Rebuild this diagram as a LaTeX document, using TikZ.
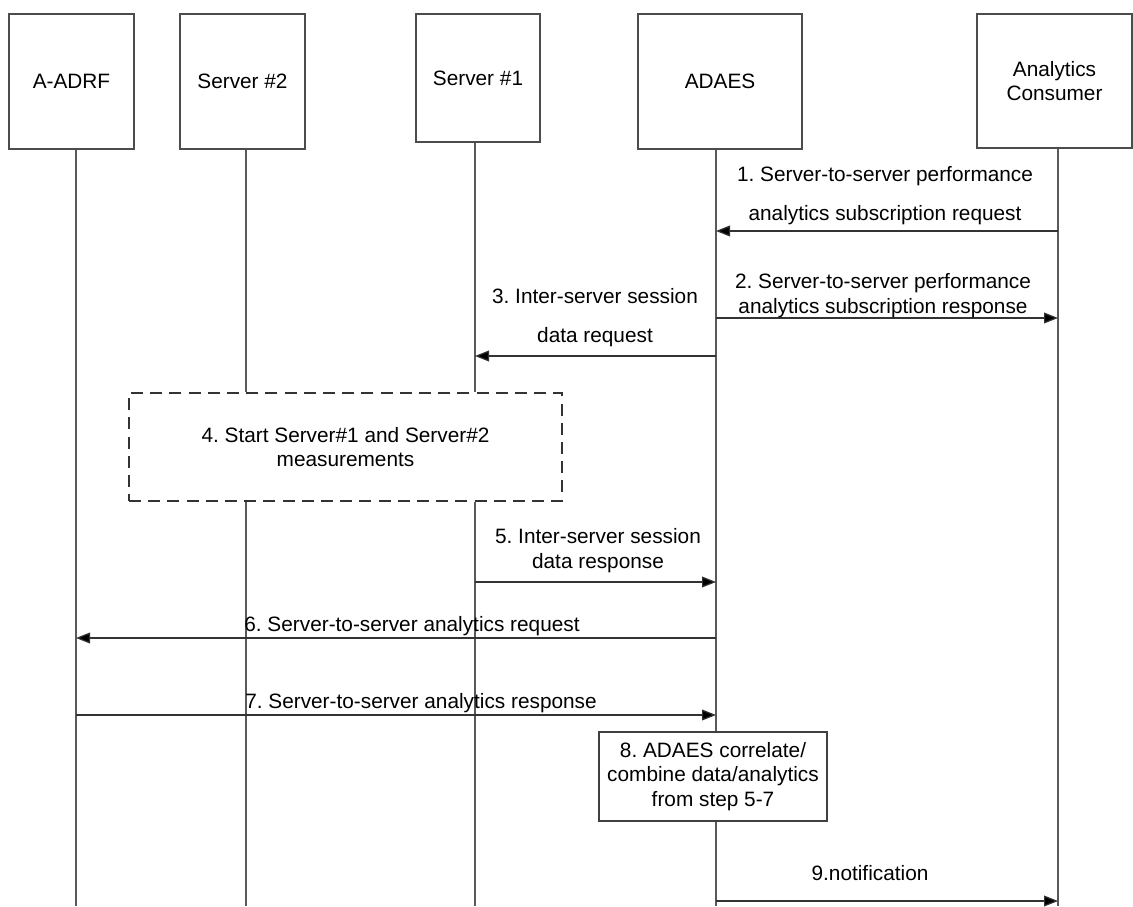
\documentclass[tikz,border=0pt]{standalone}
\usepackage{fontspec}
\setmainfont{Liberation Sans}
\usetikzlibrary{arrows.meta}
\frenchspacing
\begin{document}
\begin{tikzpicture}[x=0.5pt,y=-0.5pt,
  every node/.style={font=\fontsize{10.4}{12.4}\selectfont\frenchspacing, inner sep=0pt, align=center},
  entity/.style={draw=black!70, line width=0.6pt, fill=white},
  life/.style={draw=black!65, line width=0.6pt},
  msg/.style={draw=black!80, line width=0.6pt, -{Triangle[length=7pt,width=5.4pt,fill=black]}},
  actbox/.style={draw=black!75, line width=0.6pt, fill=white},
  dashbox/.style={draw=black!80, line width=0.6pt, dash pattern=on 6pt off 3.6pt}]
\useasboundingbox (0,0) rectangle (1133,906);

% participants
\node[entity, minimum width=62.5pt, minimum height=67.5pt] (aadrf) at (71.5,81.5) {A-ADRF};
\node[entity, minimum width=62.5pt, minimum height=67.5pt] (srv2) at (242.5,81.5) {Server \#2};
\node[entity, minimum width=62pt, minimum height=64pt] (srv1) at (478,78) {Server \#1};
\node[entity, minimum width=82pt, minimum height=67.5pt] (adaes) at (720,81.5) {ADAES};
\node[entity, minimum width=77.5pt, minimum height=67pt] (cons) at (1054.5,81) {Analytics\\Consumer};

% activity boxes
\node[dashbox, minimum width=216.5pt, minimum height=54pt] (act4) at (345.5,447) {4. Start Server\#1 and Server\#2\\measurements};
\node[actbox, minimum width=114pt, minimum height=44.5pt] (act8) at (713,776.5) {8. ADAES correlate/\\combine data/analytics\\from step 5-7};

% lifeline ends
\coordinate (l1) at (76,906);
\coordinate (l2) at (246,906);
\coordinate (l3) at (475,906);
\coordinate (l4) at (716,906);
\coordinate (l5) at (1058,906);

\draw[life] (aadrf.south -| l1) -- (l1);
\draw[life] (srv2.south -| l2) -- (act4.north -| l2);
\draw[life] (act4.south -| l2) -- (l2);
\draw[life] (srv1.south -| l3) -- (act4.north -| l3);
\draw[life] (act4.south -| l3) -- (l3);
\draw[life] (adaes.south -| l4) -- (act8.north -| l4);
\draw[life] (act8.south -| l4) -- (l4);
\draw[life] (cons.south -| l5) -- (l5);

% message rows
\coordinate (r1) at (0,231);
\coordinate (r2) at (0,318);
\coordinate (r3) at (0,356);
\coordinate (r5) at (0,582);
\coordinate (r6) at (0,638);
\coordinate (r7) at (0,715);
\coordinate (r9) at (0,901);

\draw[msg] (l5 |- r1) -- (l4 |- r1);
\draw[msg] (l4 |- r2) -- (l5 |- r2);
\draw[msg] (l4 |- r3) -- (l3 |- r3);
\draw[msg] (l3 |- r5) -- (l4 |- r5);
\draw[msg] (l4 |- r6) -- (l1 |- r6);
\draw[msg] (l1 |- r7) -- (l4 |- r7);
\draw[msg] (l4 |- r9) -- (l5 |- r9);

% message labels
\node (t1) at (885,195.5) {1. Server-to-server performance\\[7pt]analytics subscription request};
\node (t2) at (883,296) {2. Server-to-server performance\\analytics subscription response};
\node (t3) at (595,317.5) {3. Inter-server session\\[7pt]data request};
\node (t5) at (598,550.5) {5. Inter-server session\\data response};
\node (t6) at (412,626) {6. Server-to-server analytics request};
\node (t7) at (421,703) {7. Server-to-server analytics response};
\node (t9) at (870,873) {9.notification};
\end{tikzpicture}
\end{document}
